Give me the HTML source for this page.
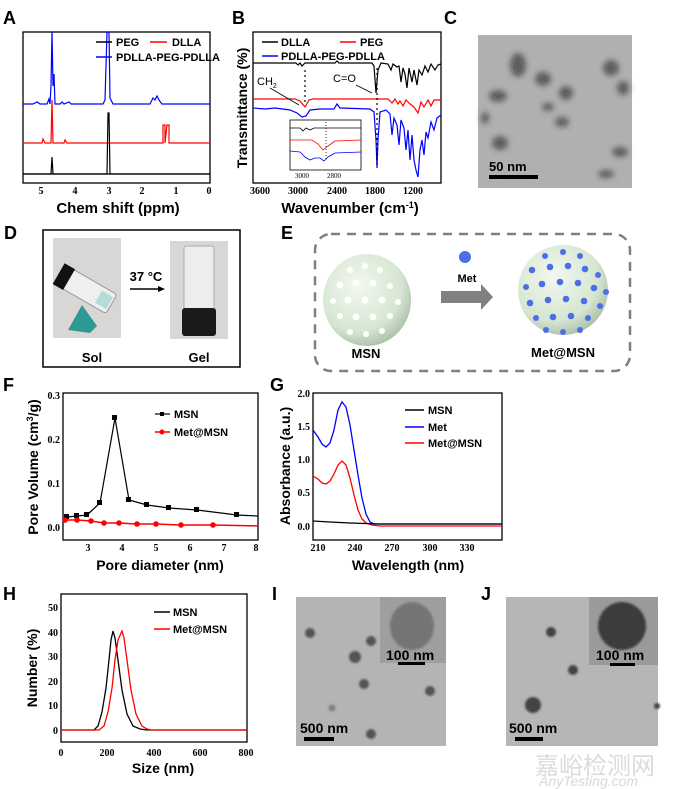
<!DOCTYPE html>
<html><head><meta charset="utf-8"><style>
html,body{margin:0;padding:0;background:#fff}
svg{display:block}
.b{font-family:"Liberation Sans",Arial,sans-serif;font-weight:bold}
.s{font-family:"Liberation Serif",serif;font-weight:bold;font-size:10px}
</style></head><body>
<svg width="680" height="789" viewBox="0 0 680 789" xmlns="http://www.w3.org/2000/svg">
<defs>
<filter id="noise" x="0" y="0" width="100%" height="100%">
<feTurbulence type="fractalNoise" baseFrequency="1.2" numOctaves="1" seed="3"/>
<feColorMatrix type="matrix" values="0 0 0 0 0.55  0 0 0 0 0.55  0 0 0 0 0.55  0 0 0 0.6 0"/>
</filter>
<filter id="bl"><feGaussianBlur stdDeviation="3"/></filter>
<filter id="bl1"><feGaussianBlur stdDeviation="1"/></filter>
<radialGradient id="sph" cx="0.4" cy="0.35" r="0.7"><stop offset="0" stop-color="#f2f8ee"/><stop offset="0.7" stop-color="#d6e6d2"/><stop offset="1" stop-color="#a8bca6"/></radialGradient>
</defs>

<g class="b" font-size="18">
<text x="3" y="24">A</text><text x="232" y="24">B</text><text x="444" y="24">C</text>
<text x="4" y="239">D</text><text x="281" y="239">E</text>
<text x="3" y="391">F</text><text x="270" y="391">G</text>
<text x="3" y="600">H</text><text x="272" y="600">I</text><text x="481" y="600">J</text>
</g>

<!-- Panel A -->
<rect x="23" y="32" width="187" height="151" fill="none" stroke="#000" stroke-width="1.3"/>
<line x1="23" y1="174" x2="210" y2="174" stroke="#000" stroke-width="1.3"/>
<polyline fill="none" stroke="#00f" stroke-width="1.2" points="23,104 33,104 37,102 40,104 47,104 49,99 50,104 51,86 52,32 53,86 54,74 55,104 60,104 62,102 64,104 69,102 71,104 103,104 105,100 107,32 109,32 110,98 113,104 150,104 153,98 155,100 157,96 159,100 162,104 210,104"/>
<polyline fill="none" stroke="#f00" stroke-width="1.2" points="23,143 42,143 43,139 45,143 51,143 52,100 53,143 64,143 65,140 67,143 163,143 163,125 165,125 165,143 167,125 169,125 169,143 210,143"/>
<polyline fill="none" stroke="#000" stroke-width="1.2" points="23,174 51,174 52,157 53,174 107,174 108,113 109,113 110,174 210,174"/>
<g class="s" text-anchor="middle"><text x="41" y="194">5</text><text x="75" y="194">4</text><text x="109" y="194">3</text><text x="142" y="194">2</text><text x="176" y="194">1</text><text x="209" y="194">0</text></g>
<text class="b" x="118" y="213" font-size="15" text-anchor="middle">Chem shift (ppm)</text>
<g class="b" font-size="11">
<line x1="96" y1="42" x2="112" y2="42" stroke="#000" stroke-width="1.5"/><text x="116" y="46">PEG</text>
<line x1="150" y1="42" x2="167" y2="42" stroke="#f00" stroke-width="1.5"/><text x="172" y="46">DLLA</text>
<line x1="96" y1="57" x2="112" y2="57" stroke="#00f" stroke-width="1.5"/><text x="116" y="61">PDLLA-PEG-PDLLA</text>
</g>

<!-- Panel B -->
<rect x="253" y="32" width="188" height="151" fill="none" stroke="#000" stroke-width="1.3"/>
<polyline fill="none" stroke="#000" stroke-width="1.2" points="253,63 296,63 298,65 300,63 302,66 305,63 335,63 337,61 339,63 372,63 374,66 376,93 378,70 381,63 388,64 391,70 393,64 397,67 399,66 401,82 403,68 405,74 407,88 409,68 412,82 414,70 417,85 419,70 422,75 425,66 428,72 431,64 435,70 438,65 441,64"/>
<polyline fill="none" stroke="#f00" stroke-width="1.2" points="253,99 295,99 300,101 305,107 309,100 313,99 388,99 392,103 395,99 398,104 400,101 403,106 406,100 410,104 414,107 418,113 421,102 424,107 428,100 431,106 434,100 441,100"/>
<polyline fill="none" stroke="#00f" stroke-width="1.2" points="253,108 265,109 275,108 290,110 297,113 302,117 306,116 310,110 320,109 334,109 337,104 340,108 370,109 374,112 376,140 377,168 378,140 380,112 386,110 390,114 392,135 394,118 397,125 399,145 401,120 404,128 406,150 408,130 410,160 412,135 414,160 416,170 418,177 420,150 422,140 424,155 426,132 428,138 431,122 434,130 437,118 441,115"/>
<line x1="305" y1="70" x2="305" y2="104" stroke="#000" stroke-dasharray="2,3" stroke-width="1.2"/>
<line x1="377" y1="68" x2="377" y2="165" stroke="#000" stroke-dasharray="2,3" stroke-width="1.2"/>
<text x="257" y="85" font-family="Liberation Sans,sans-serif" font-size="11">CH<tspan font-size="7" dy="3">2</tspan></text>
<line x1="270" y1="88" x2="299" y2="105" stroke="#000" stroke-width="0.8"/>
<text x="333" y="82" font-family="Liberation Sans,sans-serif" font-size="11">C=O</text>
<line x1="356" y1="85" x2="372" y2="93" stroke="#000" stroke-width="0.8"/>
<rect x="290" y="120" width="71" height="50" fill="#fff" stroke="#000" stroke-width="0.8"/>
<polyline fill="none" stroke="#000" stroke-width="0.8" points="290,128 300,128 303,131 306,128 310,130 314,128 361,128"/>
<polyline fill="none" stroke="#f00" stroke-width="0.8" points="290,140 312,140 318,144 323,150 328,146 335,141 361,140"/>
<polyline fill="none" stroke="#00f" stroke-width="0.8" points="290,151 300,152 305,157 310,160 315,158 320,158 324,161 328,157 335,153 361,152"/>
<line x1="326" y1="122" x2="326" y2="160" stroke="#000" stroke-dasharray="1,2" stroke-width="0.8"/>
<g font-family="Liberation Serif,serif" font-size="7" text-anchor="middle"><text x="302" y="178">3000</text><text x="334" y="178">2800</text></g>
<g class="s" text-anchor="middle"><text x="260" y="194">3600</text><text x="298" y="194">3000</text><text x="337" y="194">2400</text><text x="375" y="194">1800</text><text x="413" y="194">1200</text></g>
<text class="b" x="350" y="213" font-size="15" text-anchor="middle">Wavenumber (cm<tspan font-size="9" dy="-5">-1</tspan><tspan dy="5">)</tspan></text>
<text class="b" font-size="14" transform="translate(247,108) rotate(-90)" text-anchor="middle">Transmittance (%)</text>
<g class="b" font-size="11">
<line x1="262" y1="42" x2="278" y2="42" stroke="#000" stroke-width="1.5"/><text x="281" y="46">DLLA</text>
<line x1="340" y1="42" x2="356" y2="42" stroke="#f00" stroke-width="1.5"/><text x="360" y="46">PEG</text>
<line x1="262" y1="56" x2="278" y2="56" stroke="#00f" stroke-width="1.5"/><text x="281" y="60">PDLLA-PEG-PDLLA</text>
</g>

<!-- Panel C -->
<rect x="478" y="35" width="154" height="153" fill="#a8a8a8"/>
<g filter="url(#bl)" fill="#333">
<ellipse cx="518" cy="65" rx="8" ry="12"/><ellipse cx="611" cy="68" rx="8" ry="8"/><ellipse cx="543" cy="79" rx="8" ry="7"/>
<ellipse cx="498" cy="96" rx="9" ry="6"/><ellipse cx="566" cy="93" rx="7" ry="7"/><ellipse cx="623" cy="88" rx="6" ry="7"/>
<ellipse cx="548" cy="107" rx="6" ry="4"/><ellipse cx="562" cy="122" rx="7" ry="5"/><ellipse cx="500" cy="143" rx="8" ry="7"/>
<ellipse cx="620" cy="152" rx="8" ry="5"/><ellipse cx="606" cy="174" rx="8" ry="4"/><ellipse cx="485" cy="118" rx="4" ry="6"/>
</g>
<rect x="478" y="35" width="154" height="153" filter="url(#noise)"/>
<text class="b" x="489" y="171" font-size="13">50 nm</text>
<rect x="489" y="175" width="49" height="4" fill="#000"/>

<!-- Panel D -->
<rect x="43" y="230" width="197" height="137" fill="none" stroke="#000" stroke-width="1.5"/>
<rect x="53" y="238" width="68" height="100" fill="#d9d7d5"/>
<g transform="rotate(30 85 290)"><rect x="63" y="278" width="52" height="22" rx="3" fill="#eef0f0" stroke="#999"/><rect x="54" y="277" width="12" height="24" fill="#111"/><rect x="100" y="282" width="13" height="14" fill="#8fd0c8" opacity="0.6"/></g>
<polygon points="68,330 82,305 97,326 90,333" fill="#2e9a93"/>
<rect x="170" y="241" width="58" height="98" fill="#d9d7d5"/>
<rect x="184" y="246" width="30" height="66" rx="2" fill="#eceeee" stroke="#aaa"/>
<rect x="182" y="308" width="34" height="28" rx="3" fill="#1a1a1a"/>
<text class="b" x="146" y="281" font-size="13" text-anchor="middle">37 °C</text>
<line x1="130" y1="289" x2="158" y2="289" stroke="#000" stroke-width="1.5"/><polygon points="158,286 165,289 158,292"/>
<text class="b" x="92" y="362" font-size="13" text-anchor="middle">Sol</text>
<text class="b" x="199" y="362" font-size="13" text-anchor="middle">Gel</text>

<!-- Panel E -->
<rect x="315" y="234" width="315" height="137" rx="16" fill="none" stroke="#808080" stroke-width="2.5" stroke-dasharray="9,7"/>
<ellipse cx="367" cy="300" rx="44" ry="46" fill="url(#sph)"/>
<g fill="#fff">
<circle cx="350" cy="270" r="3"/><circle cx="365" cy="266" r="3"/><circle cx="380" cy="270" r="3"/><circle cx="340" cy="285" r="3.5"/><circle cx="356" cy="283" r="3.5"/><circle cx="373" cy="283" r="3.5"/><circle cx="390" cy="286" r="3"/>
<circle cx="333" cy="301" r="3"/><circle cx="348" cy="300" r="3.5"/><circle cx="365" cy="300" r="3.5"/><circle cx="382" cy="300" r="3.5"/><circle cx="398" cy="302" r="3"/>
<circle cx="340" cy="316" r="3"/><circle cx="356" cy="317" r="3.5"/><circle cx="373" cy="317" r="3.5"/><circle cx="390" cy="316" r="3"/><circle cx="350" cy="332" r="3"/><circle cx="366" cy="334" r="3"/><circle cx="382" cy="331" r="3"/>
</g>
<text class="b" x="366" y="358" font-size="13" text-anchor="middle">MSN</text>
<polygon points="441,291 481,291 481,284 493,297 481,310 481,303 441,303" fill="#808080"/>
<circle cx="465" cy="257" r="6" fill="#4a6fe8"/>
<text class="b" x="467" y="282" font-size="11" text-anchor="middle">Met</text>
<circle cx="563" cy="290" r="45" fill="url(#sph)"/>
<g fill="#4a6fe8">
<circle cx="545" cy="256" r="3"/><circle cx="563" cy="252" r="3"/><circle cx="580" cy="256" r="3"/><circle cx="532" cy="270" r="3.3"/><circle cx="550" cy="267" r="3.3"/><circle cx="568" cy="266" r="3.3"/><circle cx="585" cy="269" r="3.3"/><circle cx="598" cy="275" r="3"/>
<circle cx="526" cy="287" r="3"/><circle cx="542" cy="284" r="3.3"/><circle cx="560" cy="282" r="3.3"/><circle cx="578" cy="283" r="3.3"/><circle cx="594" cy="288" r="3.3"/><circle cx="606" cy="292" r="3"/>
<circle cx="530" cy="303" r="3.3"/><circle cx="548" cy="300" r="3.3"/><circle cx="566" cy="299" r="3.3"/><circle cx="584" cy="301" r="3.3"/><circle cx="600" cy="306" r="3"/>
<circle cx="536" cy="318" r="3"/><circle cx="553" cy="317" r="3.3"/><circle cx="571" cy="316" r="3.3"/><circle cx="588" cy="318" r="3"/><circle cx="546" cy="330" r="3"/><circle cx="563" cy="332" r="3"/><circle cx="580" cy="330" r="3"/>
</g>
<text class="b" x="563" y="357" font-size="13" text-anchor="middle">Met@MSN</text>

<!-- Panel F -->
<rect x="63" y="393" width="195" height="147" fill="none" stroke="#000" stroke-width="1.3"/>
<polyline fill="none" stroke="#000" stroke-width="1.2" points="67,517 77,516 87,515 100,503 115,418 129,500 147,505 169,508 197,510 237,515 258,516"/>
<g fill="#000"><rect x="64" y="514" width="5" height="5"/><rect x="74" y="513" width="5" height="5"/><rect x="84" y="512" width="5" height="5"/><rect x="97" y="500" width="5" height="5"/><rect x="112" y="415" width="5" height="5"/><rect x="126" y="497" width="5" height="5"/><rect x="144" y="502" width="5" height="5"/><rect x="166" y="505" width="5" height="5"/><rect x="194" y="507" width="5" height="5"/><rect x="234" y="512" width="5" height="5"/></g>
<polyline fill="none" stroke="#f00" stroke-width="1.5" points="65,520 77,520 91,521 104,523 119,523 137,524 156,524 181,525 213,525 258,526"/>
<g fill="#f00"><circle cx="65" cy="520" r="2.8"/><circle cx="77" cy="520" r="2.8"/><circle cx="91" cy="521" r="2.8"/><circle cx="104" cy="523" r="2.8"/><circle cx="119" cy="523" r="2.8"/><circle cx="137" cy="524" r="2.8"/><circle cx="156" cy="524" r="2.8"/><circle cx="181" cy="525" r="2.8"/><circle cx="213" cy="525" r="2.8"/></g>
<g class="s" text-anchor="end"><text x="60" y="399">0.3</text><text x="60" y="443">0.2</text><text x="60" y="487">0.1</text><text x="60" y="531">0.0</text></g>
<g class="s" text-anchor="middle"><text x="88" y="551">3</text><text x="122" y="551">4</text><text x="156" y="551">5</text><text x="190" y="551">6</text><text x="224" y="551">7</text><text x="256" y="551">8</text></g>
<text class="b" x="160" y="570" font-size="14" text-anchor="middle">Pore diameter (nm)</text>
<text class="b" font-size="14" transform="translate(38,467) rotate(-90)" text-anchor="middle">Pore Volume (cm<tspan font-size="9" dy="-5">3</tspan><tspan dy="5">/g)</tspan></text>
<g class="b" font-size="11">
<line x1="155" y1="414" x2="170" y2="414" stroke="#000" stroke-width="1.2"/><rect x="160" y="412" width="4" height="4"/><text x="174" y="418">MSN</text>
<line x1="155" y1="432" x2="170" y2="432" stroke="#f00" stroke-width="1.5"/><circle cx="162" cy="432" r="2.5" fill="#f00"/><text x="174" y="436">Met@MSN</text>
</g>

<!-- Panel G -->
<rect x="313" y="393" width="189" height="147" fill="none" stroke="#000" stroke-width="1.3"/>
<polyline fill="none" stroke="#00f" stroke-width="1.3" points="313,430 318,437 322,444 326,447 330,443 334,430 338,410 342,402 346,407 350,425 354,450 358,475 362,498 366,514 370,522 374,524 380,524 502,524"/>
<polyline fill="none" stroke="#f00" stroke-width="1.3" points="313,476 318,479 322,483 326,484 330,481 334,474 338,465 342,461 346,465 350,478 354,495 358,510 362,519 366,523 372,525 380,526 502,526"/>
<polyline fill="none" stroke="#000" stroke-width="1.3" points="313,521 330,522 350,523 380,524 420,524 502,524"/>
<g class="s" text-anchor="end"><text x="310" y="397">2.0</text><text x="310" y="430">1.5</text><text x="310" y="463">1.0</text><text x="310" y="496">0.5</text><text x="310" y="530">0.0</text></g>
<g class="s" text-anchor="middle"><text x="318" y="551">210</text><text x="355" y="551">240</text><text x="392" y="551">270</text><text x="430" y="551">300</text><text x="467" y="551">330</text></g>
<text class="b" x="408" y="570" font-size="14" text-anchor="middle">Wavelength (nm)</text>
<text class="b" font-size="14" transform="translate(290,466) rotate(-90)" text-anchor="middle">Absorbance (a.u.)</text>
<g class="b" font-size="11">
<line x1="405" y1="410" x2="424" y2="410" stroke="#000" stroke-width="1.5"/><text x="428" y="414">MSN</text>
<line x1="405" y1="427" x2="424" y2="427" stroke="#00f" stroke-width="1.5"/><text x="428" y="431">Met</text>
<line x1="405" y1="443" x2="424" y2="443" stroke="#f00" stroke-width="1.5"/><text x="428" y="447">Met@MSN</text>
</g>

<!-- Panel H -->
<rect x="61" y="594" width="186" height="148" fill="none" stroke="#000" stroke-width="1.3"/>
<polyline fill="none" stroke="#000" stroke-width="1.3" points="61,730 94,730 98,726 102,712 106,688 109,660 111,640 113,631 115,638 118,660 122,690 127,714 133,726 140,729 147,730 247,730"/>
<polyline fill="none" stroke="#f00" stroke-width="1.3" points="61,730 99,730 104,726 108,712 112,688 115,660 118,640 122,631 124,638 127,660 131,690 136,714 142,726 147,729 151,730 247,730"/>
<g class="s" text-anchor="end"><text x="58" y="611">50</text><text x="58" y="636">40</text><text x="58" y="660">30</text><text x="58" y="685">20</text><text x="58" y="709">10</text><text x="58" y="734">0</text></g>
<g class="s" text-anchor="middle"><text x="61" y="756">0</text><text x="107" y="756">200</text><text x="154" y="756">400</text><text x="200" y="756">600</text><text x="246" y="756">800</text></g>
<text class="b" x="163" y="773" font-size="14" text-anchor="middle">Size (nm)</text>
<text class="b" font-size="14" transform="translate(37,668) rotate(-90)" text-anchor="middle">Number (%)</text>
<g class="b" font-size="11">
<line x1="154" y1="612" x2="170" y2="612" stroke="#000" stroke-width="1.5"/><text x="173" y="616">MSN</text>
<line x1="154" y1="629" x2="170" y2="629" stroke="#f00" stroke-width="1.5"/><text x="173" y="633">Met@MSN</text>
</g>

<!-- Panel I -->
<rect x="296" y="597" width="150" height="149" fill="#b2b2b2"/>
<g fill="#444" filter="url(#bl1)">
<circle cx="310" cy="633" r="5"/><circle cx="371" cy="641" r="5"/><circle cx="355" cy="657" r="6"/><circle cx="364" cy="684" r="5"/><circle cx="430" cy="691" r="5"/><circle cx="332" cy="708" r="3.5" fill="#777"/><circle cx="371" cy="734" r="5"/>
</g>
<rect x="380" y="597" width="66" height="66" fill="#9a9a9a"/>
<ellipse cx="412" cy="626" rx="22" ry="24" fill="#6a6a6a" filter="url(#bl1)"/>
<rect x="296" y="597" width="150" height="149" filter="url(#noise)" opacity="0.4"/>
<text class="b" x="386" y="660" font-size="14">100 nm</text>
<rect x="398" y="662" width="27" height="3" fill="#000"/>
<text class="b" x="300" y="733" font-size="14">500 nm</text>
<rect x="304" y="737" width="30" height="4" fill="#000"/>

<!-- Panel J -->
<rect x="506" y="597" width="152" height="149" fill="#b4b4b4"/>
<g fill="#333" filter="url(#bl1)">
<circle cx="551" cy="632" r="5"/><circle cx="573" cy="670" r="5"/><circle cx="533" cy="705" r="8"/><circle cx="657" cy="706" r="3"/>
</g>
<rect x="589" y="597" width="69" height="68" fill="#959595"/>
<ellipse cx="622" cy="626" rx="24" ry="24" fill="#2c2c2c" filter="url(#bl1)"/>
<rect x="506" y="597" width="152" height="149" filter="url(#noise)" opacity="0.4"/>
<text class="b" x="596" y="660" font-size="14">100 nm</text>
<rect x="610" y="663" width="25" height="3" fill="#000"/>
<text class="b" x="509" y="733" font-size="14">500 nm</text>
<rect x="515" y="737" width="28" height="4" fill="#000"/>

<text x="535" y="774" font-family="Noto Sans CJK SC,sans-serif" font-size="24" fill="#d8d8d8" opacity="0.9">嘉峪检测网</text>
<text x="539" y="786" font-family="Liberation Sans,sans-serif" font-style="italic" font-size="14" fill="#d8d8d8">AnyTesting.com</text>
</svg>
</body></html>
